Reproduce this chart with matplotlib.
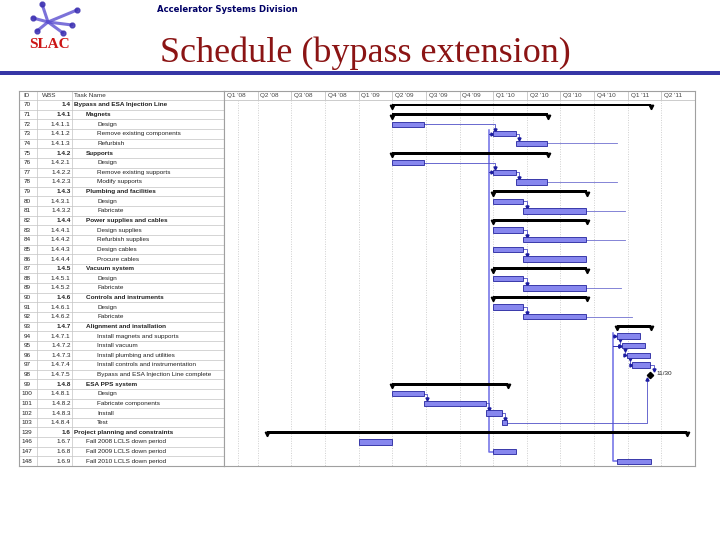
import numpy as np
import matplotlib
matplotlib.use("Agg")
import matplotlib.pyplot as plt
from matplotlib.patches import Rectangle

# Task table (one row per line of the schedule)
ids = [70, 71, 72, 73, 74, 75, 76, 77, 78, 79, 80, 81, 82, 83, 84, 85, 86, 87, 88,
       89, 90, 91, 92, 93, 94, 95, 96, 97, 98, 99, 100, 101, 102, 103, 139, 146, 147, 148]
wbs = ["1.4", "1.4.1", "1.4.1.1", "1.4.1.2", "1.4.1.3", "1.4.2", "1.4.2.1", "1.4.2.2",
       "1.4.2.3", "1.4.3", "1.4.3.1", "1.4.3.2", "1.4.4", "1.4.4.1", "1.4.4.2", "1.4.4.3",
       "1.4.4.4", "1.4.5", "1.4.5.1", "1.4.5.2", "1.4.6", "1.4.6.1", "1.4.6.2", "1.4.7",
       "1.4.7.1", "1.4.7.2", "1.4.7.3", "1.4.7.4", "1.4.7.5", "1.4.8", "1.4.8.1", "1.4.8.2",
       "1.4.8.3", "1.4.8.4", "1.6", "1.6.7", "1.6.8", "1.6.9"]
names = ["Bypass and ESA Injection Line", "Magnets", "Design", "Remove existing components",
         "Refurbish", "Supports", "Design", "Remove existing supports", "Modify supports",
         "Plumbing and facilities", "Design", "Fabricate", "Power supplies and cables",
         "Design supplies", "Refurbish supplies", "Design cables", "Procure cables",
         "Vacuum system", "Design", "Fabricate", "Controls and instruments", "Design",
         "Fabricate", "Alignment and installation", "Install magnets and supports",
         "Install vacuum", "Install plumbing and utilities", "Install controls and instrumentation",
         "Bypass and ESA Injection Line complete", "ESA PPS system", "Design",
         "Fabricate components", "Install", "Test", "Project planning and constraints",
         "Fall 2008 LCLS down period", "Fall 2009 LCLS down period", "Fall 2010 LCLS down period"]
levels = [1, 2, 3, 3, 3, 2, 3, 3, 3, 2, 3, 3, 2, 3, 3, 3, 3, 2, 3, 3, 2, 3, 3, 2, 3, 3, 3,
          3, 3, 2, 3, 3, 3, 3, 1, 2, 2, 2]
# S = summary, T = task, M = milestone
kinds = ["S", "S", "T", "T", "T", "S", "T", "T", "T", "S", "T", "T", "S", "T", "T", "T", "T",
         "S", "T", "T", "S", "T", "T", "S", "T", "T", "T", "T", "M", "S", "T", "T", "T", "T",
         "S", "T", "T", "T"]
# start / finish in months from start of Q1 '08
starts = [15.0, 15.0, 15.0, 24.0, 26.0, 15.0, 15.0, 24.0, 26.0, 24.0, 24.0, 26.7, 24.0, 24.0,
          26.7, 24.0, 26.7, 24.0, 24.0, 26.7, 24.0, 24.0, 26.7, 35.0, 35.0, 35.45, 35.9, 36.4,
          37.97, 15.0, 15.0, 17.8, 23.4, 24.75, 3.8, 12.05, 24.0, 35.05]
ends = [38.1, 28.9, 17.8, 26.0, 28.8, 28.9, 17.8, 26.0, 28.8, 32.4, 26.7, 32.3, 32.4, 26.7,
        32.3, 26.7, 32.3, 32.4, 26.7, 32.3, 32.4, 26.7, 32.3, 38.1, 37.1, 37.5, 38.0, 38.0,
        37.97, 25.3, 17.8, 23.35, 24.75, 25.2, 41.3, 15.0, 26.0, 38.1]
milestone_label = "11/30"

quarters = ["Q1 '08", "Q2 '08", "Q3 '08", "Q4 '08", "Q1 '09", "Q2 '09", "Q3 '09", "Q4 '09",
            "Q1 '10", "Q2 '10", "Q3 '10", "Q4 '10", "Q1 '11", "Q2 '11"]
quarter_starts = [0, 3, 6, 9, 12, 15, 18, 21, 24, 27, 30, 33, 36, 39]

# links
fs_links = [(72, 73), (73, 74), (76, 77), (77, 78), (80, 81), (83, 84), (85, 86), (88, 89),
            (91, 92), (100, 101), (101, 102), (102, 103), (97, 98)]
ss_chain = [(94, 95), (95, 96), (96, 97)]
open_links = [(74, 35.0), (78, 35.0), (81, 35.8), (84, 35.8), (89, 35.4), (92, 36.35)]
down_links = [(147, [73, 77], 23.65), (148, [94, 95], 34.66)]

row = {t: i for i, t in enumerate(ids)}
y = np.arange(len(ids))

plt.rcParams['font.family'] = ['Liberation Sans', 'DejaVu Sans']
fig = plt.figure(figsize=(7.2, 5.4), dpi=100)
fig.patch.set_facecolor('white')

W, H = 720.0, 540.0
top_px, bot_px = 91, 466
ylim = (37.5, -1.45)

# ---- header of slide ----
fig.text(157 / W, 1 - 10 / H, "Accelerator Systems Division", fontsize=6.1, fontweight='bold',
         color='#000066', va='center', ha='left', family=['DejaVu Sans'])
fig.text(160 / W, 1 - 62 / H, "Schedule (bypass extension)", fontsize=26,
         family='Liberation Serif', color='#8b1414', va='baseline', ha='left')
fig.add_artist(Rectangle((0, 1 - 75 / H), 1, 4 / H, transform=fig.transFigure,
                         color='#3636a6', lw=0))
# logo
cx, cy = 48, 22
spokes = [(42, 4), (77, 10), (33, 18), (72, 25), (63, 33), (37, 31)]
for sx, sy in spokes:
    fig.add_artist(plt.Line2D([cx / W, sx / W], [1 - cy / H, 1 - sy / H], color='#5b4fd0',
                              lw=2.2, alpha=0.8, solid_capstyle='round'))
    fig.add_artist(plt.Line2D([sx / W], [1 - sy / H], marker='o', ms=3.5, color='#3a2eb0',
                              alpha=0.8))
fig.text(50 / W, 1 - 44 / H, "SLAC", fontsize=11, family='Liberation Serif', fontweight='bold',
         color='#cc1515', ha='center', va='center')

# ---- table ----
axt = fig.add_axes([19 / W, 1 - bot_px / H, (224 - 19) / W, (bot_px - top_px) / H])
axt.set_xlim(0, 205)
axt.set_ylim(*ylim)
axt.set_xticks([])
axt.set_yticks([])
for s in axt.spines.values():
    s.set_color('#a0a0a0')
    s.set_linewidth(0.8)
for i in range(-1, len(ids)):
    axt.axhline(i + 0.5, color='#c4c4c4', lw=0.5)
for xc in (18, 53):
    axt.axvline(xc, color='#c4c4c4', lw=0.5)
fs = 4.6
axt.text(8, -0.95, "ID", fontsize=fs, ha='center', va='center', color='#333333')
axt.text(30, -0.95, "WBS", fontsize=fs, ha='center', va='center', color='#333333')
axt.text(55, -0.95, "Task Name", fontsize=fs, ha='left', va='center', color='#333333')
for i in range(len(ids)):
    bold = 'bold' if kinds[i] == 'S' else 'normal'
    axt.text(8, y[i], str(ids[i]), fontsize=fs, ha='center', va='center', color='#222222')
    axt.text(51.5, y[i], wbs[i], fontsize=fs, ha='right', va='center', color='#222222',
             fontweight=bold)
    axt.text(55 + (levels[i] - 1) * 11.5, y[i], names[i], fontsize=fs, ha='left', va='center',
             color='#222222', fontweight=bold)

# ---- gantt ----
ax = fig.add_axes([224 / W, 1 - bot_px / H, (695 - 224) / W, (bot_px - top_px) / H])
ax.set_xlim(0, 42)
ax.set_ylim(*ylim)
ax.set_xticks([])
ax.set_yticks([])
for s in ax.spines.values():
    s.set_color('#a0a0a0')
    s.set_linewidth(0.8)
ax.axhline(-0.5, color='#c4c4c4', lw=0.6)
for q in quarter_starts[1:]:
    ax.plot([q, q], [-1.45, -0.5], color='#c4c4c4', lw=0.6)
    ax.plot([q, q], [-0.5, 37.5], color='#cfcfcf', lw=0.7, ls=(0, (1, 1.5)))
ax.plot([1.27, 1.27], [-0.5, 37.5], color='#cfcfcf', lw=0.7, ls=(0, (1, 1.5)))
for q, lab in zip(quarter_starts, quarters):
    ax.text(q + 0.25, -0.95, lab, fontsize=fs, ha='left', va='center', color='#444444')

link_c = '#5050c8'
# open-ended links to tasks not shown
for t, xe in open_links:
    i = row[t]
    ax.plot([ends[i], xe], [y[i], y[i]], color='#7070d0', lw=0.6)

# down-period start-to-start links
for src, dsts, xv in down_links:
    i = row[src]
    top = min(row[d] for d in dsts)
    ax.plot([starts[i], xv, xv], [y[i], y[i], y[top] - 0.35], color='#6c6ce6', lw=1.1)
    for d in dsts:
        j = row[d]
        ax.plot([xv, starts[j] - 0.1], [y[j], y[j]], color='#3030b0', lw=0.7)
        ax.plot(starts[j] - 0.12, y[j], marker='>', ms=2.2, color='#1c1ca0')

# finish-to-start links
for a, b in fs_links:
    i, j = row[a], row[b]
    xt = max(starts[j] + 0.15, ends[i] + 0.3)
    ax.plot([ends[i], xt, xt], [y[i], y[i], y[j] - 0.42], color=link_c, lw=0.6)
    ax.plot(xt, y[j] - 0.42, marker='v', ms=2.2, color='#1c1ca0')

# installation chain
for a, b in ss_chain:
    i, j = row[a], row[b]
    xv = starts[i] + 0.3
    ax.plot([xv, xv, starts[j] - 0.1], [y[i] + 0.3, y[j], y[j]], color=link_c, lw=0.6)
    ax.plot(xv, y[i] + 0.42, marker='v', ms=2.2, color='#1c1ca0')
    ax.plot(starts[j] - 0.12, y[j], marker='>', ms=2.2, color='#1c1ca0')

# test -> milestone
i, j = row[103], row[98]
ax.plot([ends[i], 37.7, 37.7], [y[i], y[i], y[j] + 0.4], color=link_c, lw=0.6)
ax.plot(37.7, y[j] + 0.42, marker='^', ms=2.2, color='#1c1ca0')

# bars
for i in range(len(ids)):
    if kinds[i] == 'S':
        ax.barh(y[i], ends[i] - starts[i], left=starts[i], height=0.3, color='black', zorder=3)
        ax.plot([starts[i], ends[i]], [y[i] + 0.2, y[i] + 0.2], ls='none', marker='v', ms=3.2,
                color='black', zorder=3)
    elif kinds[i] == 'T':
        ax.barh(y[i], ends[i] - starts[i], left=starts[i], height=0.55, color='#8787ee',
                edgecolor='#24249e', lw=0.6, zorder=3)
    else:
        ax.plot(starts[i], y[i], marker='D', ms=3.2, color='black', zorder=4)
        ax.text(starts[i] + 0.6, y[i] - 0.1, milestone_label, fontsize=fs, ha='left',
                va='center', color='#222222')

fig.savefig("out.png", dpi=100, facecolor='white')
